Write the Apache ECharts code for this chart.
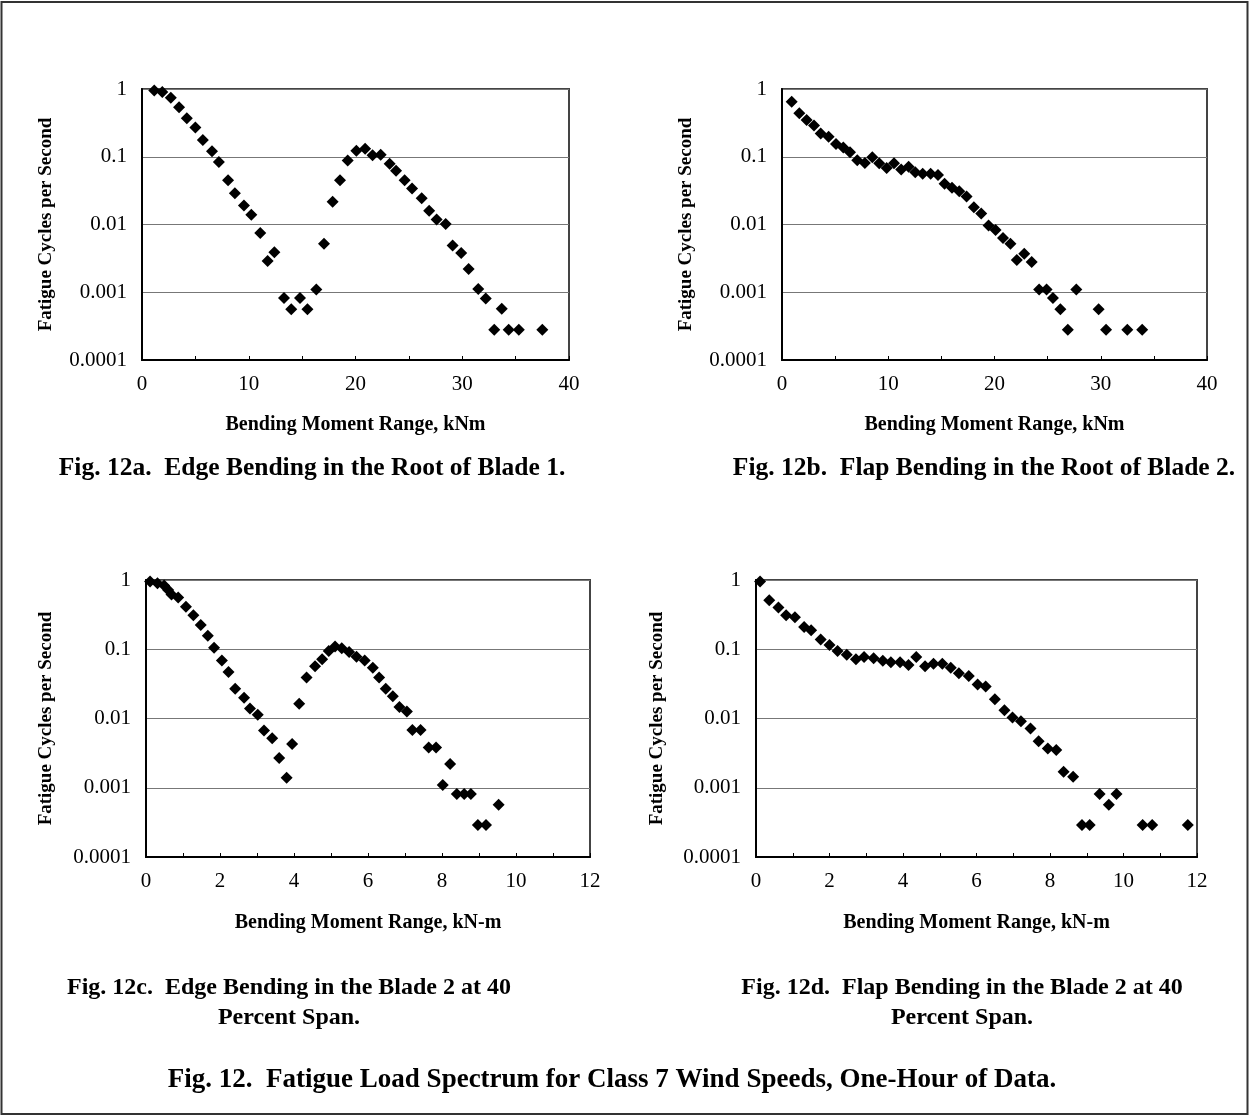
<!DOCTYPE html>
<html>
<head>
<meta charset="utf-8">
<script src="https://cdn.jsdelivr.net/npm/echarts@6/dist/echarts.min.js"></script>
<style>
  html, body { margin: 0; padding: 0; background: #fff; }
  #chart { width: 1249px; height: 1116px; }
</style>
</head>
<body>
<div id="chart"></div>
<script>
// Fig. 12a - edge bending, root of blade 1
var edgeRootX = [1.15, 1.9, 2.7, 3.47, 4.2, 5.0, 5.7, 6.56, 7.2, 8.06, 8.7, 9.55, 10.24, 11.08, 11.77, 12.4, 13.3, 13.98, 14.8, 15.5, 16.33, 17.05, 17.86, 18.55, 19.27, 20.08, 20.9, 21.6, 22.36, 23.2, 23.8, 24.6, 25.3, 26.2, 26.9, 27.6, 28.45, 29.1, 29.9, 30.6, 31.5, 32.2, 33.0, 33.7, 34.35, 35.3, 37.5];
var edgeRootY = [0.95, 0.9, 0.74, 0.54, 0.37, 0.27, 0.176, 0.121, 0.084, 0.045, 0.029, 0.019, 0.0139, 0.0075, 0.0029, 0.0039, 0.00082, 0.00056, 0.00082, 0.00056, 0.0011, 0.0052, 0.0216, 0.045, 0.088, 0.123, 0.131, 0.105, 0.107, 0.079, 0.062, 0.045, 0.034, 0.0245, 0.0159, 0.0119, 0.0102, 0.0049, 0.0038, 0.0022, 0.00112, 0.00081, 0.00028, 0.00057, 0.00028, 0.00028, 0.00028];

// Fig. 12b - flap bending, root of blade 2
var flapRootX = [0.91, 1.63, 2.32, 3.01, 3.64, 4.39, 5.08, 5.77, 6.4, 7.08, 7.8, 8.5, 9.15, 9.85, 10.54, 11.22, 11.92, 12.54, 13.24, 13.99, 14.68, 15.3, 16.0, 16.68, 17.37, 18.06, 18.75, 19.44, 20.1, 20.8, 21.5, 22.1, 22.8, 23.5, 24.2, 24.9, 25.5, 26.2, 26.9, 27.7, 29.8, 30.5, 32.5, 33.9];
var flapRootY = [0.65, 0.44, 0.35, 0.29, 0.22, 0.197, 0.154, 0.137, 0.117, 0.089, 0.081, 0.098, 0.080, 0.068, 0.080, 0.065, 0.071, 0.059, 0.056, 0.056, 0.054, 0.040, 0.035, 0.031, 0.026, 0.018, 0.0145, 0.0097, 0.0083, 0.0063, 0.0052, 0.0030, 0.0037, 0.0028, 0.0011, 0.0011, 0.00082, 0.00056, 0.00028, 0.0011, 0.00056, 0.00028, 0.00028, 0.00028];

// Fig. 12c - edge bending, blade 2 at 40% span
var edgeSpanX = [0.11, 0.31, 0.49, 0.6, 0.69, 0.87, 1.08, 1.28, 1.48, 1.67, 1.84, 2.05, 2.23, 2.41, 2.65, 2.81, 3.02, 3.19, 3.41, 3.6, 3.8, 3.95, 4.14, 4.34, 4.57, 4.76, 4.94, 5.11, 5.29, 5.49, 5.69, 5.91, 6.13, 6.3, 6.48, 6.67, 6.85, 7.05, 7.2, 7.42, 7.64, 7.84, 8.02, 8.22, 8.4, 8.6, 8.78, 8.97, 9.19, 9.53];
var edgeSpanY = [0.95, 0.9, 0.83, 0.72, 0.62, 0.56, 0.41, 0.31, 0.224, 0.157, 0.105, 0.069, 0.047, 0.027, 0.020, 0.014, 0.0113, 0.0067, 0.0052, 0.0027, 0.0014, 0.0043, 0.0163, 0.039, 0.057, 0.072, 0.094, 0.110, 0.103, 0.091, 0.078, 0.069, 0.054, 0.039, 0.027, 0.021, 0.0147, 0.0126, 0.0068, 0.0068, 0.0038, 0.0038, 0.0011, 0.0022, 0.00081, 0.00081, 0.00081, 0.00029, 0.00029, 0.00057];

// Fig. 12d - flap bending, blade 2 at 40% span
var flapSpanX = [0.11, 0.36, 0.61, 0.82, 1.06, 1.31, 1.5, 1.76, 2.0, 2.22, 2.47, 2.72, 2.94, 3.2, 3.45, 3.67, 3.92, 4.15, 4.36, 4.6, 4.83, 5.07, 5.3, 5.52, 5.79, 6.03, 6.25, 6.5, 6.76, 6.98, 7.21, 7.47, 7.69, 7.94, 8.17, 8.37, 8.63, 8.87, 9.08, 9.35, 9.6, 9.81, 10.52, 10.78, 11.75];
var flapSpanY = [0.95, 0.51, 0.40, 0.31, 0.29, 0.21, 0.188, 0.138, 0.115, 0.094, 0.083, 0.072, 0.077, 0.074, 0.068, 0.065, 0.065, 0.059, 0.077, 0.057, 0.062, 0.062, 0.054, 0.045, 0.041, 0.031, 0.029, 0.019, 0.0132, 0.0103, 0.0091, 0.0072, 0.0047, 0.0037, 0.0035, 0.0017, 0.00144, 0.00029, 0.00029, 0.00081, 0.00057, 0.00081, 0.00029, 0.00029, 0.00029];

var yTicks = [0.0001, 0.001, 0.01, 0.1, 1];
var xMax = [40, 40, 12, 12];
var xStep = [5, 5, 1, 1];
var xLabelStep = [10, 10, 2, 2];
var xNames = ['Bending Moment Range, kNm', 'Bending Moment Range, kNm', 'Bending Moment Range, kN-m', 'Bending Moment Range, kN-m'];
var yName = 'Fatigue Cycles per Second';
var captions = [
    'Fig. 12a.  Edge Bending in the Root of Blade 1.',
    'Fig. 12b.  Flap Bending in the Root of Blade 2.',
    'Fig. 12c.  Edge Bending in the Blade 2 at 40\nPercent Span.',
    'Fig. 12d.  Flap Bending in the Blade 2 at 40\nPercent Span.'
];
var mainCaption = 'Fig. 12.  Fatigue Load Spectrum for Class 7 Wind Speeds, One-Hour of Data.';

var FONT = '"Liberation Serif", "Times New Roman", serif';

var grids = [
    { left: 142, top: 89, width: 427, height: 271 },
    { left: 782, top: 89, width: 425, height: 271 },
    { left: 146, top: 580, width: 444, height: 277 },
    { left: 756, top: 580, width: 441, height: 277 }
];
var yNameGap = [86, 86, 90, 89];
var xNameGap = [55, 55, 56, 56];
var captionPos = [[312, 468], [984, 468], [289, 1003], [962, 1003]];
var captionSize = [25.5, 25.5, 24, 24];

var seriesData = [
    [edgeRootX, edgeRootY],
    [flapRootX, flapRootY],
    [edgeSpanX, edgeSpanY],
    [flapSpanX, flapSpanY]
];

function fmtLog(v) {
    var n = Number(v.toPrecision(6));
    return yTicks.indexOf(n) >= 0 ? String(n) : '';
}

var chart = echarts.init(document.getElementById('chart'));

var option = {
    backgroundColor: '#fff',
    animation: false,
    grid: grids.map(function (g) {
        return Object.assign({ show: true, borderColor: '#444', borderWidth: 2, backgroundColor: 'transparent' }, g);
    }),
    xAxis: grids.map(function (g, i) {
        return {
            type: 'value',
            gridIndex: i,
            min: 0,
            max: xMax[i],
            interval: xStep[i],
            name: xNames[i],
            nameLocation: 'middle',
            nameGap: xNameGap[i],
            nameTextStyle: { fontFamily: FONT, fontSize: 20, fontWeight: 'bold', color: '#000' },
            axisLine: { show: true, lineStyle: { color: '#000', width: 2 } },
            axisTick: { show: true, inside: true, length: 4, lineStyle: { color: '#000', width: 1 } },
            splitLine: { show: false },
            axisLabel: {
                fontFamily: FONT, fontSize: 21, color: '#000', margin: 14,
                formatter: function (v) {
                    return v % xLabelStep[i] === 0 ? String(v) : '';
                }
            }
        };
    }),
    yAxis: grids.map(function (g, i) {
        return {
            type: 'log',
            logBase: 10,
            gridIndex: i,
            min: 0.0001,
            max: 1,
            name: yName,
            nameLocation: 'middle',
            nameGap: yNameGap[i],
            nameTextStyle: { fontFamily: FONT, fontSize: 19, fontWeight: 'bold', color: '#000' },
            axisLine: { show: true, lineStyle: { color: '#000', width: 2 } },
            axisTick: { show: false },
            splitLine: { show: true, lineStyle: { color: '#777', width: 1 } },
            axisLabel: { fontFamily: FONT, fontSize: 21, color: '#000', margin: 15, formatter: fmtLog }
        };
    }),
    series: seriesData.map(function (d, i) {
        return {
            type: 'scatter',
            xAxisIndex: i,
            yAxisIndex: i,
            symbol: 'diamond',
            symbolSize: 12,
            clip: false,
            itemStyle: { color: '#000', opacity: 1 },
            data: d[0].map(function (x, k) { return [x, d[1][k]]; })
        };
    }),
    graphic: [
        {
            type: 'rect',
            shape: { x: 1.5, y: 2, width: 1246, height: 1112 },
            style: { fill: 'none', stroke: '#333', lineWidth: 2 },
            silent: true
        }
    ].concat(captions.map(function (t, i) {
        return {
            type: 'text',
            x: captionPos[i][0],
            y: captionPos[i][1],
            style: {
                text: t, fill: '#000', fontFamily: FONT, fontSize: captionSize[i], fontWeight: 'bold',
                align: 'center', verticalAlign: 'middle', lineHeight: 30
            }
        };
    })).concat([{
        type: 'text',
        x: 612,
        y: 1080,
        style: {
            text: mainCaption, fill: '#000', fontFamily: FONT, fontSize: 27, fontWeight: 'bold',
            align: 'center', verticalAlign: 'middle'
        }
    }])
};

chart.setOption(option);
</script>
</body>
</html>
